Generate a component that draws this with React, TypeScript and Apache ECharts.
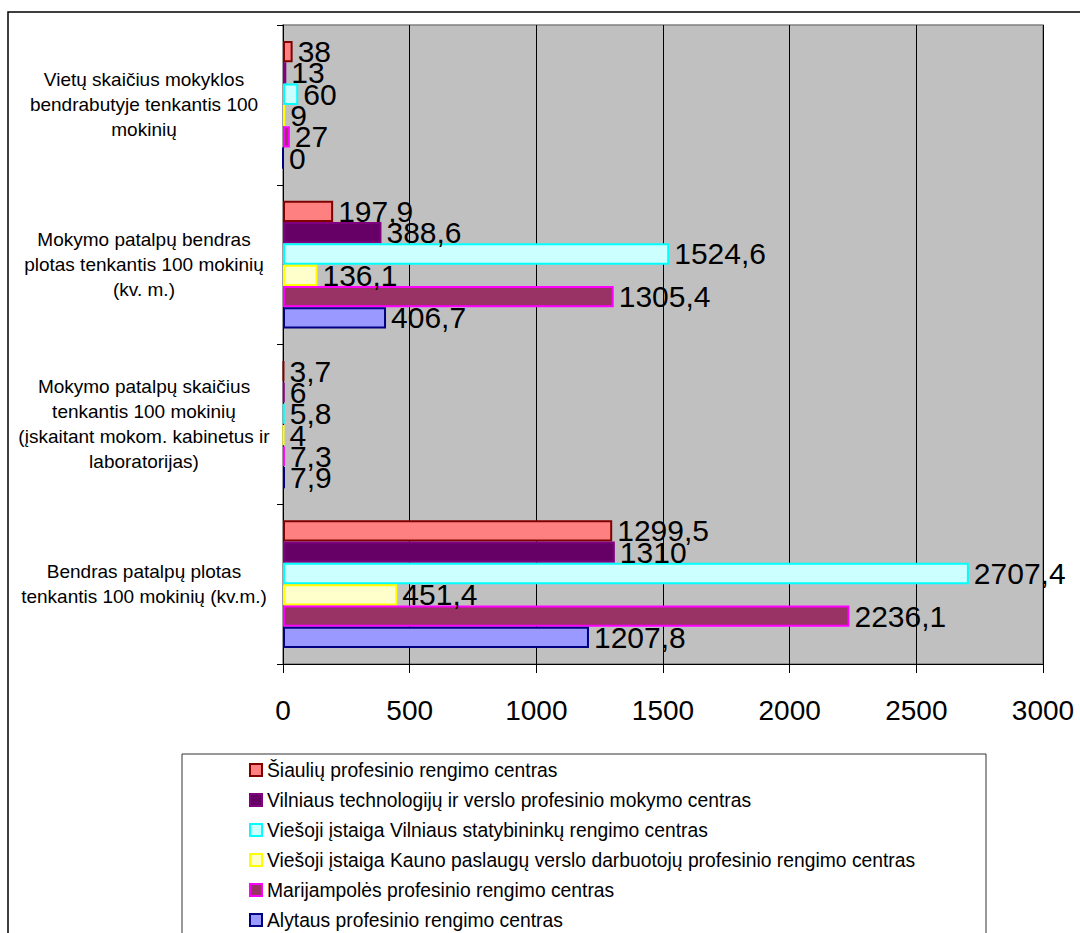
import React, { useEffect, useRef } from "react";
import * as echarts from "echarts";

// Indicator names (bottom to top on the category axis)
const categories: string[] = [
  "Bendras patalpų plotas\ntenkantis 100 mokinių (kv.m.)",
  "Mokymo patalpų skaičius\ntenkantis 100 mokinių\n(įskaitant mokom. kabinetus ir\nlaboratorijas)",
  "Mokymo patalpų bendras\nplotas tenkantis 100 mokinių\n(kv. m.)",
  "Vietų skaičius mokyklos\nbendrabutyje tenkantis 100\nmokinių",
];

const schoolNames: string[] = [
  "Šiaulių profesinio rengimo centras",
  "Vilniaus technologijų ir verslo profesinio mokymo centras",
  "Viešoji įstaiga Vilniaus statybininkų rengimo centras",
  "Viešoji įstaiga Kauno paslaugų verslo darbuotojų profesinio rengimo centras",
  "Marijampolės profesinio rengimo centras",
  "Alytaus profesinio rengimo centras",
];

// Values per school, in category order
const siauliai: number[] = [1299.5, 3.7, 197.9, 38];
const vilniausTech: number[] = [1310, 6, 388.6, 13];
const vilniausStat: number[] = [2707.4, 5.8, 1524.6, 60];
const kaunoPaslaugu: number[] = [451.4, 4, 136.1, 9];
const marijampole: number[] = [2236.1, 7.3, 1305.4, 27];
const alytus: number[] = [1207.8, 7.9, 406.7, 0];

const seriesValues: number[][] = [siauliai, vilniausTech, vilniausStat, kaunoPaslaugu, marijampole, alytus];

const fillColors: string[] = ["#FF8080", "#660066", "#CCFFFF", "#FFFFCC", "#993366", "#9999FF"];
const borderColors: string[] = ["#800000", "#800080", "#00FFFF", "#FFFF00", "#FF00FF", "#000080"];

const axisTicks: number[] = [0, 500, 1000, 1500, 2000, 2500, 3000];

const FONT = '"Liberation Sans", Arial, Helvetica, sans-serif';

export default function App() {
  const ref = useRef<HTMLDivElement>(null);

  useEffect(() => {
    if (!ref.current) return;
    const chart = echarts.init(ref.current, undefined, { renderer: "svg" });

    const series = schoolNames.map((name, i) => ({
      name,
      type: "bar" as const,
      data: seriesValues[i],
      barGap: "0%",
      barCategoryGap: "20%",
      itemStyle: {
        color: fillColors[i],
        borderColor: borderColors[i],
        borderWidth: 2,
      },
      label: {
        show: true,
        position: "right" as const,
        distance: 5,
        color: "#000",
        fontSize: 30,
        fontFamily: FONT,
        formatter: (p: any) => String(p.value).replace(".", ","),
      },
    }));

    chart.setOption({
      animation: false,
      backgroundColor: "#FFFFFF",
      textStyle: { fontFamily: FONT },
      grid: {
        left: 283,
        top: 25,
        right: 37,
        bottom: 269,
        show: true,
        backgroundColor: "#C0C0C0",
        borderColor: "#808080",
        borderWidth: 1.5,
      },
      legend: {
        orient: "vertical",
        left: 249,
        top: 760,
        padding: 0,
        itemWidth: 12,
        itemHeight: 12,
        itemGap: 10,
        icon: "rect",
        data: schoolNames,
        selectedMode: false,
        textStyle: {
          color: "#000",
          fontSize: 19.3,
          lineHeight: 20,
          fontFamily: FONT,
        },
      },
      xAxis: {
        type: "value",
        min: axisTicks[0],
        max: axisTicks[axisTicks.length - 1],
        interval: axisTicks[1] - axisTicks[0],
        axisLine: { show: true, lineStyle: { color: "#000", width: 1 } },
        axisTick: { show: true, length: 9, lineStyle: { color: "#000" } },
        axisLabel: {
          color: "#000",
          fontSize: 28,
          margin: 32,
          fontFamily: FONT,
          formatter: (v: number) => String(v),
        },
        splitLine: { show: true, lineStyle: { color: "#000", width: 1 } },
      },
      yAxis: {
        type: "category",
        data: categories,
        axisLine: { show: true, lineStyle: { color: "#000", width: 1 } },
        axisTick: { show: true, length: 6, lineStyle: { color: "#000" } },
        axisLabel: {
          interval: 0,
          color: "#000",
          fontSize: 19,
          lineHeight: 25,
          align: "center",
          margin: 139,
          fontFamily: FONT,
        },
        splitLine: { show: false },
      },
      graphic: [
        {
          type: "rect",
          silent: true,
          z: 100,
          shape: { x: 8, y: 12, width: 1200, height: 1000 },
          style: { fill: "none", stroke: "#000", lineWidth: 1.5 },
        },
        {
          type: "rect",
          silent: true,
          z: 100,
          shape: { x: 182, y: 754, width: 804, height: 400 },
          style: { fill: "none", stroke: "#333", lineWidth: 1 },
        },
      ],
      series,
    });

    return () => chart.dispose();
  }, []);

  return (
    <div
      ref={ref}
      style={{ position: "fixed", left: 0, top: 0, width: 1080, height: 933 }}
    />
  );
}
